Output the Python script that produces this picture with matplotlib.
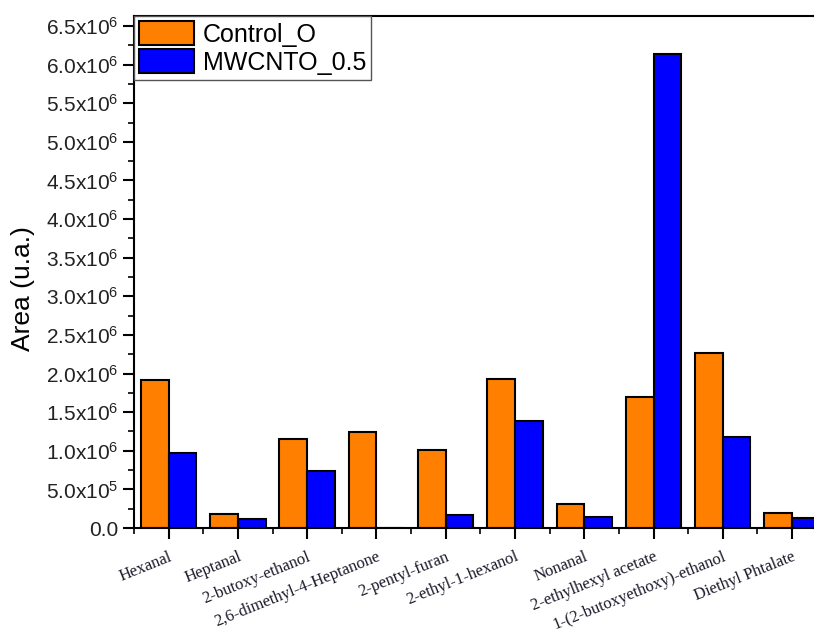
import matplotlib
matplotlib.use("Agg")
import matplotlib.pyplot as plt
import numpy as np
from matplotlib.ticker import MultipleLocator, FuncFormatter, FixedLocator

compounds = ["Hexanal", "Heptanal", "2-butoxy-ethanol", "2,6-dimethyl-4-Heptanone",
             "2-pentyl-furan", "2-ethyl-1-hexanol", "Nonanal", "2-ethylhexyl acetate",
             "1-(2-butoxyethoxy)-ethanol", "Diethyl Phtalate"]
control_o = [1.913e6, 0.185e6, 1.149e6, 1.244e6, 1.014e6, 1.926e6, 0.315e6, 1.697e6, 2.267e6, 0.198e6]
mwcnto_05 = [0.970e6, 0.113e6, 0.734e6, 0.0, 0.168e6, 1.382e6, 0.147e6, 6.14e6, 1.183e6, 0.130e6]
series_names = ["Control_O", "MWCNTO_0.5"]

def fmt_y(v, pos):
    if abs(v) < 1:
        return "0.0"
    if v < 0:
        return ""
    exp = int(np.floor(np.log10(v)))
    mant = v / 10**exp
    return r"$\mathregular{%.1fx10^{%d}}$" % (mant, exp)

fig = plt.figure(figsize=(8.14, 6.35), dpi=100)
ax = fig.add_axes([0.1646, 0.1685, 0.851, 0.8063])

x = np.arange(len(compounds))
w = 0.4
ax.bar(x - w/2, control_o, w, color="#FF8000", edgecolor="black", linewidth=1.5, label=series_names[0])
ax.bar(x + w/2, mwcnto_05, w, color="#0000FF", edgecolor="black", linewidth=1.5, label=series_names[1])

ax.set_xlim(-0.5, len(compounds) - 0.5)
ax.set_ylim(0, 6.63e6)

# y axis
ax.yaxis.set_major_locator(MultipleLocator(0.5e6))
ax.yaxis.set_minor_locator(MultipleLocator(0.25e6))
ax.yaxis.set_major_formatter(FuncFormatter(fmt_y))
ax.tick_params(axis="y", which="major", direction="out", length=8, width=1.5, labelsize=15, pad=3)
ax.tick_params(axis="y", which="minor", direction="out", length=4, width=1.2)
for lab in ax.get_yticklabels():
    lab.set_family("Liberation Sans")
    lab.set_color("#222222")

# x axis
ax.set_xticks(x)
ax.xaxis.set_minor_locator(FixedLocator(np.arange(-0.5, len(compounds), 1.0)))
ax.set_xticklabels(compounds, rotation=22, ha="right", rotation_mode="anchor",
                   family="Liberation Serif", fontsize=12, color="#1a1a2a")
ax.tick_params(axis="x", which="major", direction="out", length=8, width=1.5, pad=7)
ax.tick_params(axis="x", which="minor", direction="out", length=4, width=1.2)

ax.set_ylabel("Area (u.a.)", fontsize=19, family="Liberation Sans")
ax.yaxis.set_label_coords(-0.143, 0.467)

for side in ["left", "bottom", "top"]:
    ax.spines[side].set_linewidth(1.5)
ax.spines["right"].set_visible(False)

leg = ax.legend(loc="upper left", borderaxespad=0, fancybox=False, framealpha=1,
                prop={"family": "Liberation Sans", "size": 18},
                handlelength=2.2, handleheight=1.1, handletextpad=0.35,
                labelspacing=0.1, borderpad=0.2)
leg.get_frame().set_edgecolor("#555555")
leg.get_frame().set_linewidth(1.0)

fig.savefig("out.png", dpi=100)
